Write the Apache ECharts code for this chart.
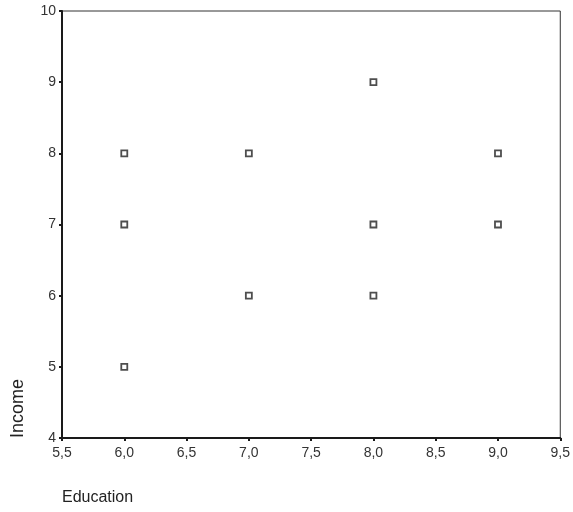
<!DOCTYPE html>
<html>
<head>
<meta charset="utf-8">
<script src="https://cdn.jsdelivr.net/npm/echarts@6/dist/echarts.min.js"></script>
<style>
  html, body { margin: 0; padding: 0; background: #fff; }
  #chart { width: 573px; height: 512px; }
</style>
</head>
<body>
<div id="chart"></div>
<script>
// education (x) and income (y) for each observation
const education = [6, 6, 6, 7, 7, 8, 8, 8, 9, 9];
const income = [8, 7, 5, 8, 6, 9, 7, 6, 8, 7];

const points = education.map((e, i) => [e, income[i]]);

const chart = echarts.init(document.getElementById('chart'));

const option = {
  animation: false,
  backgroundColor: '#fff',
  grid: {
    left: 62,
    right: 10,
    top: 11,
    bottom: 74,
    show: true,
    borderColor: '#333',
    borderWidth: 1
  },
  xAxis: {
    type: 'value',
    min: 5.5,
    max: 9.5,
    interval: 0.5,
    axisLine: { lineStyle: { color: '#1a1a1a', width: 2 } },
    axisTick: { show: true, length: 3, lineStyle: { color: '#1a1a1a', width: 2 } },
    splitLine: { show: false },
    axisLabel: {
      color: '#333',
      fontFamily: 'Liberation Sans',
      fontSize: 14,
      margin: 8,
      formatter: (v) => v.toFixed(1).replace('.', ',')
    }
  },
  yAxis: {
    type: 'value',
    min: 4,
    max: 10,
    interval: 1,
    axisLine: { lineStyle: { color: '#1a1a1a', width: 2 } },
    axisTick: { show: true, length: 3, lineStyle: { color: '#1a1a1a', width: 2 } },
    splitLine: { show: false },
    axisLabel: {
      color: '#333',
      fontFamily: 'Liberation Sans',
      fontSize: 14,
      margin: 6
    }
  },
  graphic: [
    {
      type: 'text',
      left: 62,
      top: 490,
      style: {
        text: 'Education',
        fill: '#222',
        font: '16px "Liberation Sans"'
      }
    },
    {
      type: 'text',
      x: 9,
      y: 438,
      rotation: Math.PI / 2,
      style: {
        text: 'Income',
        fill: '#222',
        font: '18px "Liberation Sans"'
      }
    }
  ],
  series: [
    {
      type: 'scatter',
      data: points,
      symbol: 'rect',
      symbolSize: 6,
      itemStyle: {
        color: '#fff',
        borderColor: '#222',
        borderWidth: 1.8
      }
    }
  ]
};

chart.setOption(option);
</script>
</body>
</html>
